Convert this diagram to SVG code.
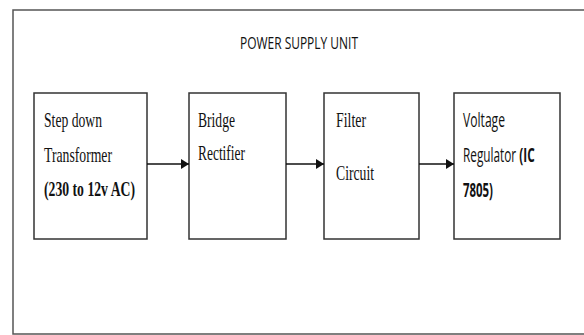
<svg xmlns="http://www.w3.org/2000/svg" width="584" height="335" viewBox="0 0 584 335">
<style>
.frame{fill:none;stroke:#555;stroke-width:1.5}
.box{fill:#fff;stroke:#333;stroke-width:1.5}
.serif{font-family:"Liberation Serif","Times New Roman",serif;font-size:21px;fill:#111}
.sans{font-family:"Open Sans","Liberation Sans",sans-serif;font-size:20px;fill:#111}
.title{font-family:"Open Sans","Liberation Sans",sans-serif;font-size:17px;fill:#111}
.b{font-weight:bold}
.conn{stroke:#111;stroke-width:1.5;fill:none}
</style>
<defs>
<marker id="ah" markerWidth="9" markerHeight="10" refX="8" refY="5" orient="auto" markerUnits="userSpaceOnUse">
<path d="M0,0 L8,5 L0,10 Z" fill="#111"/>
</marker>
</defs>
<rect width="584" height="335" fill="#fff"/>
<path class="frame" d="M590,10 H13 V334 H590"/>
<text class="title" x="240" y="49" textLength="118" lengthAdjust="spacingAndGlyphs">POWER SUPPLY UNIT</text>
<g id="transformer">
<rect class="box" x="34" y="93" width="113" height="146"/>
<text class="serif" x="44" y="127" textLength="58" lengthAdjust="spacingAndGlyphs">Step down</text>
<text class="serif" x="44" y="162" textLength="68" lengthAdjust="spacingAndGlyphs">Transformer</text>
<text class="serif b" x="44" y="196" textLength="91" lengthAdjust="spacingAndGlyphs">(230 to 12v AC)</text>
</g>
<g id="rectifier">
<rect class="box" x="189" y="93" width="97" height="146"/>
<text class="serif" x="198" y="127" textLength="37" lengthAdjust="spacingAndGlyphs">Bridge</text>
<text class="serif" x="198" y="160" textLength="47" lengthAdjust="spacingAndGlyphs">Rectifier</text>
</g>
<g id="filter">
<rect class="box" x="324" y="93" width="95" height="146"/>
<text class="serif" x="336" y="127" textLength="30" lengthAdjust="spacingAndGlyphs">Filter</text>
<text class="serif" x="336" y="180" textLength="38" lengthAdjust="spacingAndGlyphs">Circuit</text>
</g>
<g id="regulator">
<rect class="box" x="454" y="93" width="106" height="146"/>
<text class="sans" x="463" y="127" textLength="42" lengthAdjust="spacingAndGlyphs">Voltage</text>
<text class="sans" transform="translate(463,162) scale(0.59,1)">Regulator <tspan class="b">(IC</tspan></text>
<text class="sans b" x="463" y="197" textLength="30" lengthAdjust="spacingAndGlyphs">7805)</text>
</g>
<g id="connectors">
<line class="conn" x1="147" y1="164" x2="189" y2="164" marker-end="url(#ah)"/>
<line class="conn" x1="286" y1="164" x2="324" y2="164" marker-end="url(#ah)"/>
<line class="conn" x1="419" y1="164" x2="454" y2="164" marker-end="url(#ah)"/>
</g>
</svg>
